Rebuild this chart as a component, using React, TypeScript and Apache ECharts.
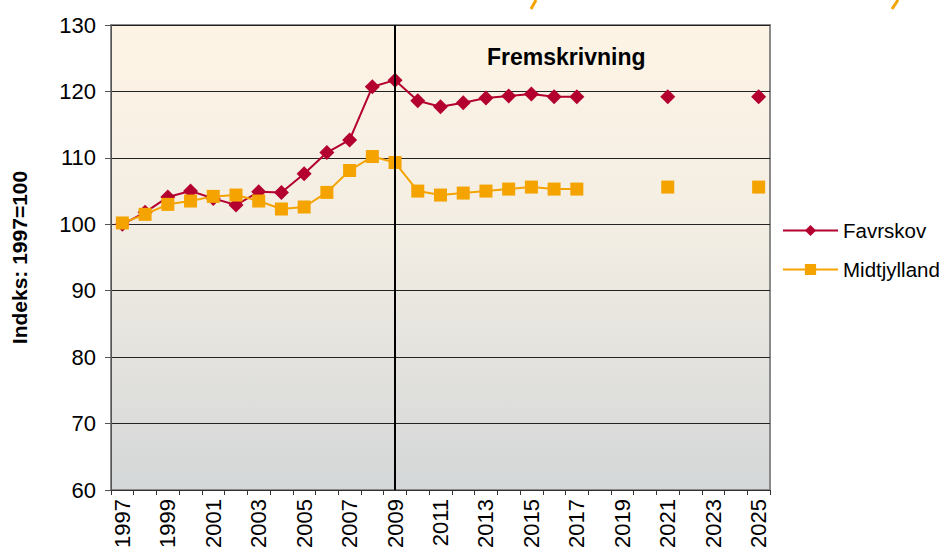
import React, { useEffect, useRef } from "react";
import * as echarts from "echarts";

const years = [
  "1997", "1998", "1999", "2000", "2001", "2002", "2003", "2004", "2005", "2006",
  "2007", "2008", "2009", "2010", "2011", "2012", "2013", "2014", "2015", "2016",
  "2017", "2018", "2019", "2020", "2021", "2022", "2023", "2024", "2025",
];

const favrskov = [
  100.0, 101.8, 104.1, 105.0, 103.9, 102.9, 104.9, 104.8, 107.6, 110.8,
  112.7, 120.7, 121.7, 118.6, 117.7, 118.3, 119.0, 119.3, 119.6, 119.2,
  119.2, null, null, null, 119.2, null, null, null, 119.2,
];

const midtjylland = [
  100.2, 101.5, 103.0, 103.5, 104.2, 104.4, 103.5, 102.3, 102.6, 104.8,
  108.1, 110.2, 109.3, 105.0, 104.4, 104.7, 105.0, 105.3, 105.6, 105.3,
  105.3, null, null, null, 105.6, null, null, null, 105.6,
];

const yTicks = { min: 60, max: 130, interval: 10 };
const forecastStart = "2009";

const FONT = "'Liberation Sans', Arial, sans-serif";
const RED = "#B4002F";
const ORANGE = "#F5A300";

export default function App() {
  const ref = useRef<HTMLDivElement>(null);

  useEffect(() => {
    if (!ref.current) return;
    const chart = echarts.init(ref.current, null, { renderer: "svg" });
    chart.setOption({
      animation: false,
      textStyle: { fontFamily: FONT },
      grid: {
        left: 111,
        right: 172,
        top: 25,
        bottom: 62,
        show: true,
        borderColor: "#8a8a8a",
        borderWidth: 2,
        backgroundColor: {
          type: "linear",
          x: 0,
          y: 0,
          x2: 0,
          y2: 1,
          colorStops: [
            { offset: 0, color: "#FEF4E5" },
            { offset: 0.45, color: "#F2EDE3" },
            { offset: 1, color: "#D4D7D8" },
          ],
        },
      },
      legend: {
        orient: "vertical",
        left: 782,
        top: 220,
        padding: 0,
        itemWidth: 55,
        itemHeight: 14,
        itemGap: 18,
        textStyle: { fontSize: 20.5, color: "#000", fontFamily: FONT },
        data: ["Favrskov", "Midtjylland"],
      },
      graphic: [
        {
          type: "text",
          left: 487,
          top: 45,
          style: {
            text: "Fremskrivning",
            fontSize: 23,
            fontWeight: "bold",
            fill: "#000",
            fontFamily: FONT,
          },
        },
        {
          type: "line",
          shape: { x1: 536, y1: 0, x2: 531, y2: 9 },
          style: { stroke: ORANGE, lineWidth: 3 },
        },
        {
          type: "line",
          shape: { x1: 898, y1: 0, x2: 892, y2: 9 },
          style: { stroke: ORANGE, lineWidth: 3 },
        },
      ],
      xAxis: {
        type: "category",
        data: years,
        boundaryGap: true,
        axisLine: { lineStyle: { color: "#333", width: 1 } },
        axisTick: { show: true, interval: 0, length: 5, lineStyle: { color: "#333" } },
        axisLabel: {
          interval: 1,
          rotate: 90,
          fontSize: 22,
          color: "#000",
          fontFamily: FONT,
          margin: 9,
        },
        splitLine: { show: false },
      },
      yAxis: {
        type: "value",
        min: yTicks.min,
        max: yTicks.max,
        interval: yTicks.interval,
        name: "Indeks: 1997=100",
        nameLocation: "middle",
        nameGap: 81,
        nameRotate: 90,
        nameTextStyle: { fontSize: 21, fontWeight: "bold", color: "#000", fontFamily: FONT },
        axisLine: { show: true, lineStyle: { color: "#555", width: 1 } },
        axisTick: { show: true, length: 6, lineStyle: { color: "#555" } },
        axisLabel: { fontSize: 22, color: "#000", fontFamily: FONT, margin: 15 },
        splitLine: { show: true, lineStyle: { color: "#222", width: 1 } },
      },
      series: [
        {
          name: "Favrskov",
          type: "line",
          data: favrskov,
          connectNulls: false,
          symbol: "diamond",
          symbolSize: 15,
          lineStyle: { color: RED, width: 2 },
          itemStyle: { color: RED },
          z: 3,
          markLine: {
            silent: true,
            symbol: "none",
            label: { show: false },
            lineStyle: { color: "#000", width: 2, type: "solid" },
            data: [{ xAxis: forecastStart }],
          },
        },
        {
          name: "Midtjylland",
          type: "line",
          data: midtjylland,
          connectNulls: false,
          symbol: "rect",
          symbolSize: 13,
          lineStyle: { color: ORANGE, width: 2 },
          itemStyle: { color: ORANGE },
          z: 4,
        },
      ],
    });
    return () => chart.dispose();
  }, []);

  return <div ref={ref} style={{ width: 942, height: 552, position: "absolute", left: 0, top: 0 }} />;
}
